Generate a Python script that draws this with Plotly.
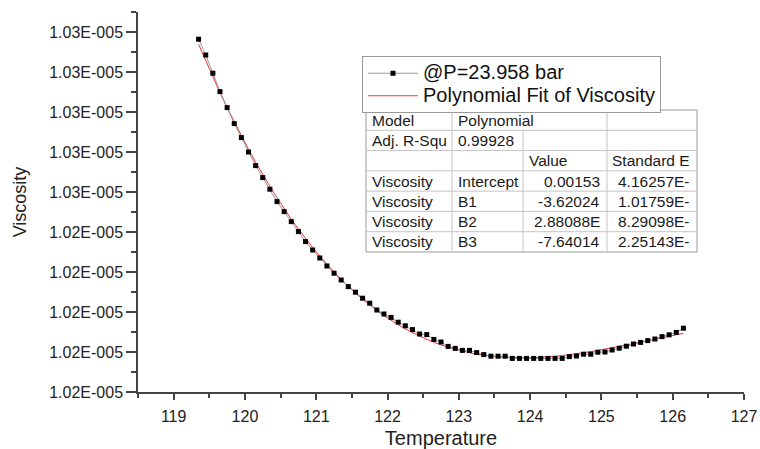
import numpy as np
import plotly.graph_objects as go

# ---------------- data ----------------
temperature = [round(119.35 + 0.1 * i, 2) for i in range(69)]
viscosity = [
    1.025964e-5, 1.025885e-5, 1.025794e-5, 1.025702e-5, 1.025622e-5, 1.025542e-5,
    1.025472e-5, 1.025400e-5, 1.025332e-5, 1.025272e-5, 1.025214e-5, 1.025152e-5,
    1.025102e-5, 1.025052e-5, 1.025002e-5, 1.024952e-5, 1.024910e-5, 1.024870e-5,
    1.024830e-5, 1.024794e-5, 1.024760e-5, 1.024727e-5, 1.024699e-5, 1.024669e-5,
    1.024644e-5, 1.024610e-5, 1.024590e-5, 1.024573e-5, 1.024549e-5, 1.024531e-5,
    1.024512e-5, 1.024490e-5, 1.024487e-5, 1.024463e-5, 1.024450e-5, 1.024428e-5,
    1.024418e-5, 1.024408e-5, 1.024408e-5, 1.024397e-5, 1.024387e-5, 1.024379e-5,
    1.024379e-5, 1.024379e-5, 1.024368e-5, 1.024368e-5, 1.024368e-5, 1.024368e-5,
    1.024368e-5, 1.024368e-5, 1.024368e-5, 1.024368e-5, 1.024377e-5, 1.024380e-5,
    1.024389e-5, 1.024389e-5, 1.024399e-5, 1.024400e-5, 1.024410e-5, 1.024419e-5,
    1.024429e-5, 1.024440e-5, 1.024448e-5, 1.024457e-5, 1.024465e-5, 1.024477e-5,
    1.024486e-5, 1.024498e-5, 1.024519e-5,
]
series_name = "@P=23.958 bar"
fit_name = "Polynomial Fit of Viscosity"

y_tick_vals = [1.0242e-5, 1.0244e-5, 1.0246e-5, 1.0248e-5, 1.0250e-5,
               1.0252e-5, 1.0254e-5, 1.0256e-5, 1.0258e-5, 1.0260e-5]
y_tick_text = ["1.02E-005"] * 5 + ["1.03E-005"] * 5
x_tick_vals = [119, 120, 121, 122, 123, 124, 125, 126, 127]

table_rows = [
    ["Model", "Polynomial", "", ""],
    ["Adj. R-Squ", "0.99928", "", ""],
    ["", "", "Value", "Standard E"],
    ["Viscosity", "Intercept", "0.00153", "4.16257E-"],
    ["Viscosity", "B1", "-3.62024", "1.01759E-"],
    ["Viscosity", "B2", "2.88088E", "8.29098E-"],
    ["Viscosity", "B3", "-7.64014", "2.25143E-"],
]

# ---------------- fit ----------------
T = np.array(temperature)
V = np.array(viscosity)
tc = T.mean()
coef = np.polyfit(T - tc, V, 3)
fit_vals = np.polyval(coef, T - tc)

# ---------------- layout geometry ----------------
W, H = 760, 449
ML, MR, MT, MB = 138, 16, 12, 57
PW, PH = W - ML - MR, H - MT - MB


def px(x):
    return (x - ML) / PW


def py(y):
    return (H - MB - y) / PH


FONT = "Arial, Liberation Sans, sans-serif"
AXC = "#444444"


def legend_label(txt):
    return '<span style="font-size:20px">' + txt + "</span>"


fig = go.Figure()
fig.add_trace(go.Scatter(
    x=temperature, y=list(fit_vals), mode="lines", name=legend_label(fit_name),
    line=dict(color="#e8383d", width=1), legendrank=2,
))
fig.add_trace(go.Scatter(
    x=temperature, y=viscosity, mode="lines+markers", name=legend_label(series_name),
    line=dict(color="#9a9a9a", width=1),
    marker=dict(symbol="square", size=5, color="black"), legendrank=1,
))

# ---------------- table (shapes + annotations) ----------------
tx0, tx1 = 366, 697
ty0, ty1 = 110, 252
col_edges = [366, 452, 523, 607, 697]
nrows = len(table_rows)
rh = (ty1 - ty0) / nrows
shapes = []
line_c = "#c4c4c4"
shapes.append(dict(type="rect", xref="paper", yref="paper",
                   x0=px(tx0), x1=px(tx1), y0=py(ty1), y1=py(ty0),
                   line=dict(color="#9a9a9a", width=1), fillcolor="white", layer="above"))
for r in range(1, nrows):
    y = ty0 + r * rh
    shapes.append(dict(type="line", xref="paper", yref="paper",
                       x0=px(tx0), x1=px(tx1), y0=py(y), y1=py(y),
                       line=dict(color=line_c, width=1), layer="above"))
for ci, cx in enumerate(col_edges[1:-1], start=1):
    ystart = ty0 + rh if ci == 2 else ty0
    shapes.append(dict(type="line", xref="paper", yref="paper",
                       x0=px(cx), x1=px(cx), y0=py(ystart), y1=py(ty1),
                       line=dict(color=line_c, width=1), layer="above"))

annotations = []
for r, row in enumerate(table_rows):
    yc = ty0 + (r + 0.5) * rh
    for c, txt in enumerate(row):
        if not txt:
            continue
        if c == 2 and r >= 3:
            x, anc = col_edges[3] - 5, "right"
        elif c == 3:
            x, anc = col_edges[4] - 5, "right"
        else:
            x, anc = col_edges[c] + 4, "left"
        annotations.append(dict(
            xref="paper", yref="paper", x=px(x), y=py(yc),
            xanchor=anc, yanchor="middle", text=txt, showarrow=False,
            font=dict(family=FONT, size=15.5, color="#1a1a1a"),
        ))

fig.update_layout(
    width=W, height=H,
    margin=dict(l=ML, r=MR, t=MT, b=MB, pad=0, autoexpand=False),
    paper_bgcolor="white", plot_bgcolor="white",
    font=dict(family=FONT, color="#222222"),
    showlegend=True,
    legend=dict(
        x=px(362), y=py(56), xanchor="left", yanchor="top",
        bgcolor="white", bordercolor="#9a9a9a", borderwidth=1,
        font=dict(family=FONT, size=15, color="#111111"),
        itemwidth=50, tracegroupgap=0,
    ),
    shapes=shapes,
    annotations=annotations,
)

fig.update_xaxes(
    range=[118.5, 127], tickvals=x_tick_vals, automargin=False,
    showline=True, linecolor=AXC, linewidth=1.5, mirror=False,
    ticks="outside", ticklen=6, tickwidth=1.5, tickcolor=AXC,
    ticklabelstandoff=3,
    minor=dict(ticks="outside", ticklen=4, tickwidth=1.5, tickcolor=AXC,
               tick0=118.5, dtick=1),
    showgrid=False, zeroline=False,
    tickfont=dict(family=FONT, size=16, color="#222222"),
    title=dict(text="Temperature", font=dict(family=FONT, size=20, color="#222222"),
               standoff=14),
)
fig.update_yaxes(
    range=[1.0242e-5, 1.0261e-5], tickvals=y_tick_vals, ticktext=y_tick_text,
    automargin=False,
    showline=True, linecolor=AXC, linewidth=1.5, mirror=False,
    ticks="outside", ticklen=10, tickwidth=1.5, tickcolor=AXC,
    minor=dict(ticks="outside", ticklen=5, tickwidth=1.5, tickcolor=AXC,
               tick0=1.0243e-5, dtick=2e-9),
    showgrid=False, zeroline=False,
    tickfont=dict(family=FONT, size=16, color="#222222"),
    title=dict(text="Viscosity", font=dict(family=FONT, size=18, color="#222222"),
               standoff=18),
)

fig.write_html("out.html")
